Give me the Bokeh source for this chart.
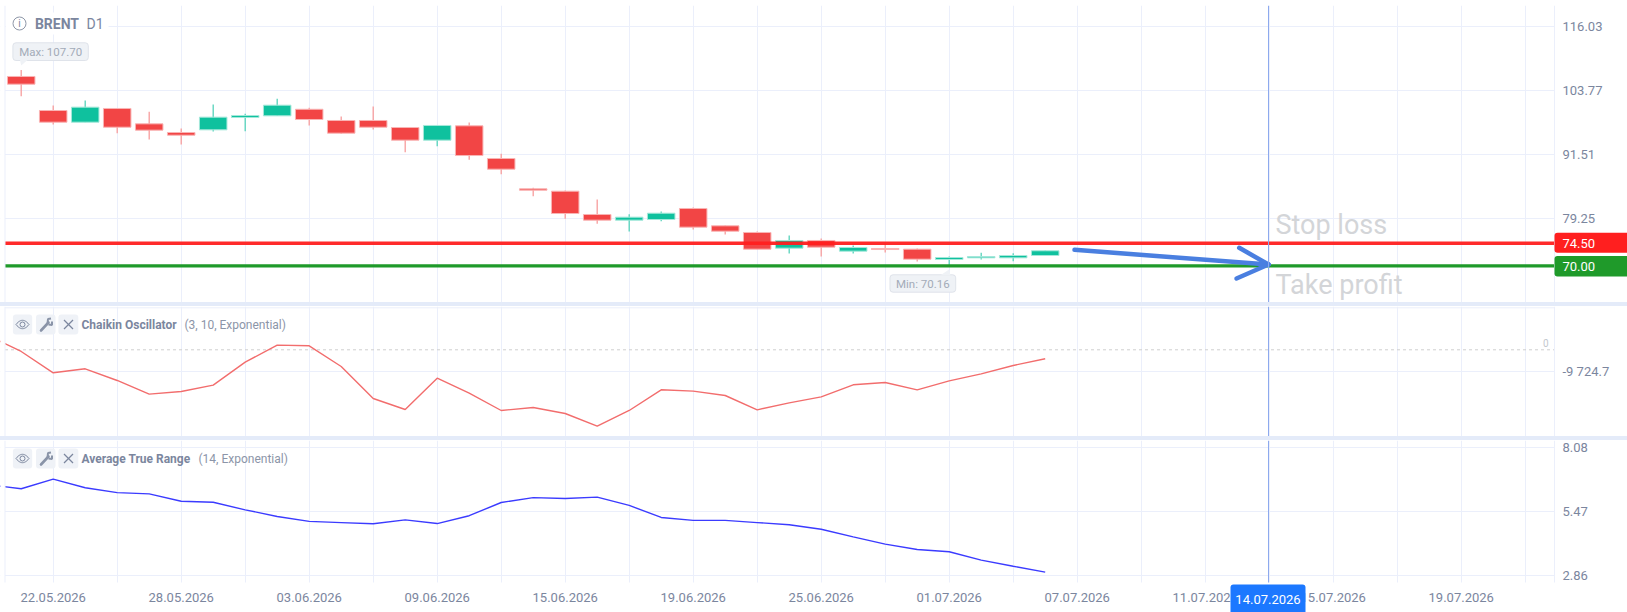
import numpy as np
from bokeh.embed import file_html
from bokeh.layouts import column
from bokeh.models import (ColumnDataSource, FixedTicker, Grid, LinearAxis, Range1d, Spacer)
from bokeh.core.properties import value
from bokeh.plotting import figure
from bokeh.resources import INLINE

# ---- data -----------------------------------------------------------------
bar_top = [106.47, 99.96, 100.60, 100.35, 97.41, 95.75, 98.69, 99.00, 100.98, 100.20, 98.05, 98.05, 96.71,
           97.10, 97.03, 90.78, 84.98, 84.53, 80.07, 79.56, 80.32, 81.22, 77.90, 76.63, 75.10, 75.10, 73.76,
           73.57, 73.44, 71.84, 72.03, 72.23, 73.13]
bar_bottom = [105.00, 97.73, 97.73, 96.77, 96.20, 95.24, 96.26, 98.62, 98.94, 98.24, 95.63, 96.77, 94.29,
              94.29, 91.35, 88.74, 84.72, 80.26, 78.99, 78.99, 79.11, 77.65, 76.88, 73.44, 73.63, 73.82, 73.06,
              73.37, 71.52, 71.46, 71.78, 71.78, 72.23]
bar_high = [107.70, 100.90, 101.87, 100.35, 99.71, 96.52, 101.11, 99.33, 102.20, 100.47, 98.81, 100.73, 96.77,
            97.10, 97.67, 91.67, 85.17, 84.66, 82.94, 80.13, 80.64, 81.41, 77.96, 76.82, 76.05, 75.48, 74.14,
            74.52, 73.57, 72.03, 72.74, 72.67, 73.20]
bar_low = [102.70, 97.28, 97.73, 95.63, 94.41, 93.46, 95.94, 96.00, 98.94, 97.10, 95.50, 96.33, 92.00,
           93.14, 90.53, 87.78, 83.58, 79.24, 78.28, 76.82, 78.80, 77.20, 76.24, 73.44, 72.61, 72.03, 72.61,
           72.80, 71.08, 70.16, 71.46, 71.14, 72.20]
bar_up = [0, 0, 1, 0, 0, 0, 1, 1, 1, 0, 0, 0, 0, 1, 0, 0, 0, 0, 0, 1, 1, 0, 0, 0, 1, 0, 1, 0, 0, 1, 1, 1, 1]

line_idx = list(range(-1, 33))
chaikin = [6040, -737, -10170, -8402, -13561, -19604, -18425, -15624, -5454, 2064, 1769, -7370, -21520, -26385,
           -12529, -19162, -26827, -25500, -28153, -33755, -26827, -17688, -18278, -20194, -26532, -23437, -20783,
           -15477, -14445, -17688, -13708, -10613, -6928, -3980]
atr = [6.57, 6.41, 6.80, 6.45, 6.25, 6.20, 5.90, 5.86, 5.55, 5.28, 5.08, 5.03, 4.98, 5.14, 4.99, 5.31, 5.85, 6.05,
       6.01, 6.07, 5.73, 5.24, 5.12, 5.12, 5.03, 4.94, 4.76, 4.45, 4.15, 3.93, 3.84, 3.50, 3.25, 3.01]

price_ticks = [116.03, 103.77, 91.51, 79.25]
chaikin_ticks = [-9724.7]
atr_ticks = [8.08, 5.47, 2.86]
date_idx = [1, 5, 9, 13, 17, 21, 25, 29, 33, 37, 41, 45]
date_labels = ["22.05.2026", "28.05.2026", "03.06.2026", "09.06.2026", "15.06.2026", "19.06.2026", "25.06.2026",
               "01.07.2026", "07.07.2026", "11.07.2026", "15.07.2026", "19.07.2026"]
grid_idx = list(range(1, 49, 2))
stop_loss = 74.50
take_profit = 70.00
cross_label = "14.07.2026"

# ---- style ----------------------------------------------------------------
W, PLOT_W = 1627, 1554
GRID = "#ebeffb"; SEP = "#e4ebf9"; TXT = "#7b869e"; PALE = "#d3d5d8"
RED = "#f24545"; GREEN = "#0fc19e"; TAG_RED = "#ff1f1f"; TAG_GREEN = "#1f9a2a"
FONT = "Roboto"
X = lambda px: (px - 20.7) / 32.0
Y1 = lambda px: 116.03 - (px - 26.0) / 5.228
Y2 = lambda px: -(px - 349.3) * 442.0
Y3 = lambda px: 8.08 - (px - 447.3) / 24.52
CROSS = X(1268)
EDGE = X(4.5)
RIGHT = X(PLOT_W)
FULL = X(W)


def panel(height, top_px, bottom_px, yf, ticks, overrides=None, top=0):
    p = figure(width=W, height=height, output_backend="svg", toolbar_location=None,
               x_axis_type=None, y_axis_type=None,
               x_range=Range1d(X(0), FULL), y_range=Range1d(yf(bottom_px), yf(top_px)),
               min_border_left=0, min_border_right=0, min_border_top=top, min_border_bottom=0,
               outline_line_color=None, background_fill_color="white", border_fill_color="white")
    p.add_layout(Grid(dimension=0, ticker=FixedTicker(ticks=grid_idx), grid_line_color=GRID, grid_line_width=1))
    p.add_layout(Grid(dimension=1, ticker=FixedTicker(ticks=ticks), grid_line_color=GRID, grid_line_width=1))
    ax = LinearAxis(ticker=FixedTicker(ticks=ticks), major_tick_line_color=None, minor_tick_line_color=None,
                    major_tick_out=0, major_tick_in=0, axis_line_color=None,
                    major_label_text_font=FONT, major_label_text_font_size="13px",
                    major_label_text_color=TXT, major_label_standoff=-65, major_label_text_align="left")
    ax.major_label_overrides = overrides or {t: f"{t:.2f}" for t in ticks}
    p.add_layout(ax, "right")
    return p


def finish(p, yf, top_px, bottom_px, line_bottom=None):
    """Left gutter, right scale area, rules and crosshair."""
    lb = bottom_px if line_bottom is None else line_bottom
    p.quad(left=[X(0)], right=[EDGE], bottom=[yf(bottom_px)], top=[yf(top_px)], fill_color="white", line_color=None)
    p.quad(left=[RIGHT], right=[FULL], bottom=[yf(bottom_px)], top=[yf(top_px)], fill_color="white", line_color=None)
    if lb != bottom_px:
        p.quad(left=[X(0)], right=[FULL], bottom=[yf(bottom_px)], top=[yf(lb)], fill_color="white", line_color=None)
    p.segment([EDGE, RIGHT], [yf(lb)] * 2, [EDGE, RIGHT], [yf(top_px)] * 2, line_color=GRID, line_width=1)
    p.segment([CROSS], [yf(lb)], [CROSS], [yf(top_px)], line_color="#8da9ee", line_width=1)


def txt(p, xpx, ypx, yf, s, size, color, style="normal", align="left", level="glyph"):
    p.text([X(xpx)], [yf(ypx)], text=[s], text_font=value(FONT), text_font_size=size, text_color=color,
           text_font_style=style, text_baseline="middle", text_align=align, level=level)


def icons(p, yf, top):
    bot = top + 20
    mid = top + 10
    for l, r in [(12.4, 31.7), (35.5, 55.0), (57.9, 77.8)]:
        p.quad(left=[X(l)], right=[X(r)], top=[yf(top)], bottom=[yf(bot)], fill_color="#eff2f7", line_color=None,
               border_radius=3)
    # eye
    t = np.linspace(-1, 1, 13)
    ex = 22 + 6.5 * t
    up = mid - 4.2 * (1 - t ** 2)
    dn = mid + 4.2 * (1 - t ** 2)
    p.line(X(np.r_[ex, ex[::-1]]), yf(np.r_[up, dn[::-1]]), line_color=TXT, line_width=1)
    p.scatter([X(22)], [yf(mid)], marker="circle", size=5, fill_color=None, line_color=TXT, line_width=1)
    # wrench
    p.line([X(40.5), X(48)], [yf(mid + 6), yf(mid - 2)], line_color="#8a94a8", line_width=2.6, line_cap="round")
    p.line([X(47), X(47.5), X(50.5)], [yf(mid - 1), yf(mid - 5.5), yf(mid - 6)], line_color="#8a94a8", line_width=2)
    p.line([X(48), X(51.5), X(51.5)], [yf(mid), yf(mid + 0.5), yf(mid - 3)], line_color="#8a94a8", line_width=2)
    # cross
    p.multi_line([[X(63.5), X(72.5)], [X(63.5), X(72.5)]], [[yf(mid - 4.5), yf(mid + 4.5)], [yf(mid + 4.5), yf(mid - 4.5)]],
                 line_color=TXT, line_width=1.2)


# ---- price panel ----------------------------------------------------------
p1 = panel(302, 5, 302, Y1, price_ticks, top=5)
idx = np.arange(len(bar_top))
colors = [GREEN if u else RED for u in bar_up]
wicks = ["#55d2ba" if u else "#f79c9c" for u in bar_up]
edges = ["#a5e8da" if u else "#f9b4b4" for u in bar_up]
src = ColumnDataSource(dict(x=idx, top=bar_top, bottom=bar_bottom, high=bar_high, low=bar_low, c=colors, w=wicks, e=edges))
p1.segment("x", "high", "x", "low", source=src, line_color="w", line_width=1.3)
p1.vbar(x="x", top="top", bottom="bottom", width=0.86, source=src, fill_color="c", line_color="e", line_width=1)

p1.segment([EDGE], [stop_loss + 0.08], [RIGHT], [stop_loss + 0.08], line_color=TAG_RED, line_width=3.4, line_alpha=0.95)
p1.segment([EDGE], [take_profit + 0.25], [RIGHT], [take_profit + 0.25], line_color=TAG_GREEN, line_width=3.4)

arrow = dict(line_color="#4a7fe0", line_width=4.5, line_cap="round")
p1.line([X(1074), CROSS], [Y1(249.3), Y1(264)], **arrow)
p1.line([X(1238.7), CROSS], [Y1(247.3), Y1(264)], **arrow)
p1.line([X(1236), CROSS], [Y1(278), Y1(264)], **arrow)

txt(p1, 1275, 224, Y1, "Stop loss", "27px", PALE)
txt(p1, 1275, 284, Y1, "Take profit", "27px", PALE)

# header
p1.quad(left=[EDGE + 0.02], right=[X(108)], top=[Y1(12)], bottom=[Y1(34)], fill_color="white", line_color=None)
p1.scatter([X(19)], [Y1(23)], marker="circle", size=13, fill_color="white", line_color="#8e97a8", line_width=1)
txt(p1, 19, 23.3, Y1, "i", "10px", "#7b869e", align="center")
txt(p1, 34.4, 23.5, Y1, "BRENT", "14px", TXT, style="bold")
txt(p1, 86, 23.5, Y1, "D1", "14px", TXT)

# min / max bubbles
bubble = dict(fill_color="#eff2f6", line_color="#dfe3ea", line_width=1)
p1.quad(left=[X(12.4)], right=[X(87.8)], top=[Y1(42.3)], bottom=[Y1(60)], border_radius=3, **bubble)
p1.patch([X(19.5), X(27), X(20.7)], [Y1(59.5), Y1(59.5), Y1(65)], fill_color="#eff2f6", line_color=None)
txt(p1, 50.2, 51.5, Y1, "Max: 107.70", "11.5px", "#a3abb8", align="center")
p1.quad(left=[X(889.5)], right=[X(955.2)], top=[Y1(274.3)], bottom=[Y1(291.7)], border_radius=3, **bubble)
p1.patch([X(940), X(950), X(948.5)], [Y1(274.8), Y1(274.8), Y1(269)], fill_color="#eff2f6", line_color=None)
txt(p1, 922.3, 283.5, Y1, "Min: 70.16", "11.5px", "#a3abb8", align="center")

finish(p1, Y1, 5, 302)

for val, col, t, b in [(stop_loss, TAG_RED, 232.3, 252.3), (take_profit, TAG_GREEN, 255.5, 276)]:
    p1.quad(left=[RIGHT], right=[FULL + 1], top=[Y1(t)], bottom=[Y1(b)], fill_color=col, line_color=None, border_radius=3)
    txt(p1, 1562, (t + b) / 2 + 0.3, Y1, f"{val:.2f}", "13px", "white")

# ---- Chaikin panel --------------------------------------------------------
p2 = panel(130, 306, 436, Y2, chaikin_ticks, overrides={-9724.7: "-9 724.7"})
p2.segment([EDGE], [Y2(307.3)], [RIGHT], [Y2(307.3)], line_color=GRID, line_width=1)
p2.segment([EDGE], [0], [RIGHT], [0], line_color="#cfcfcf", line_width=1, line_dash="3 3")
p2.line(line_idx, chaikin, line_color="#f26d6d", line_width=1.4)
icons(p2, Y2, 314)
txt(p2, 81, 324.2, Y2, "Chaikin Oscillator", "12px", TXT, style="bold")
txt(p2, 184, 324.2, Y2, "(3, 10, Exponential)", "12px", "#8c95a8")
txt(p2, 1548, 342, Y2, "0", "10px", "#c3c7ce", align="right")
finish(p2, Y2, 306, 436)

# ---- ATR panel ------------------------------------------------------------
p3 = panel(172, 440, 612, Y3, atr_ticks)
p3.line(line_idx, atr, line_color="#3b3bff", line_width=1.4)
icons(p3, Y3, 448)
txt(p3, 81, 458.2, Y3, "Average True Range", "12px", TXT, style="bold")
txt(p3, 198, 458.2, Y3, "(14, Exponential)", "12px", "#8c95a8")
finish(p3, Y3, 440, 612, line_bottom=582)

date_axis = LinearAxis(ticker=FixedTicker(ticks=date_idx), major_label_overrides=dict(zip(date_idx, date_labels)),
                       major_tick_line_color=None, minor_tick_line_color=None, axis_line_color=None,
                       major_tick_out=0, major_tick_in=0,
                       major_label_text_font=FONT, major_label_text_font_size="13px", major_label_text_color=TXT,
                       major_label_standoff=-20)
p3.add_layout(date_axis, "below")
p3.quad(left=[X(1230)], right=[X(1305)], top=[Y3(584)], bottom=[Y3(616)], fill_color="#1c78ff", line_color=None,
        border_radius=3, level="overlay")
txt(p3, 1267.5, 598.7, Y3, cross_label, "13px", "white", align="center", level="overlay")

sep1 = Spacer(width=W, height=4, styles={"background-color": SEP})
sep2 = Spacer(width=W, height=4, styles={"background-color": SEP})
root = column(p1, sep1, p2, sep2, p3, spacing=0)

open("out.html", "w").write(file_html(root, INLINE))
